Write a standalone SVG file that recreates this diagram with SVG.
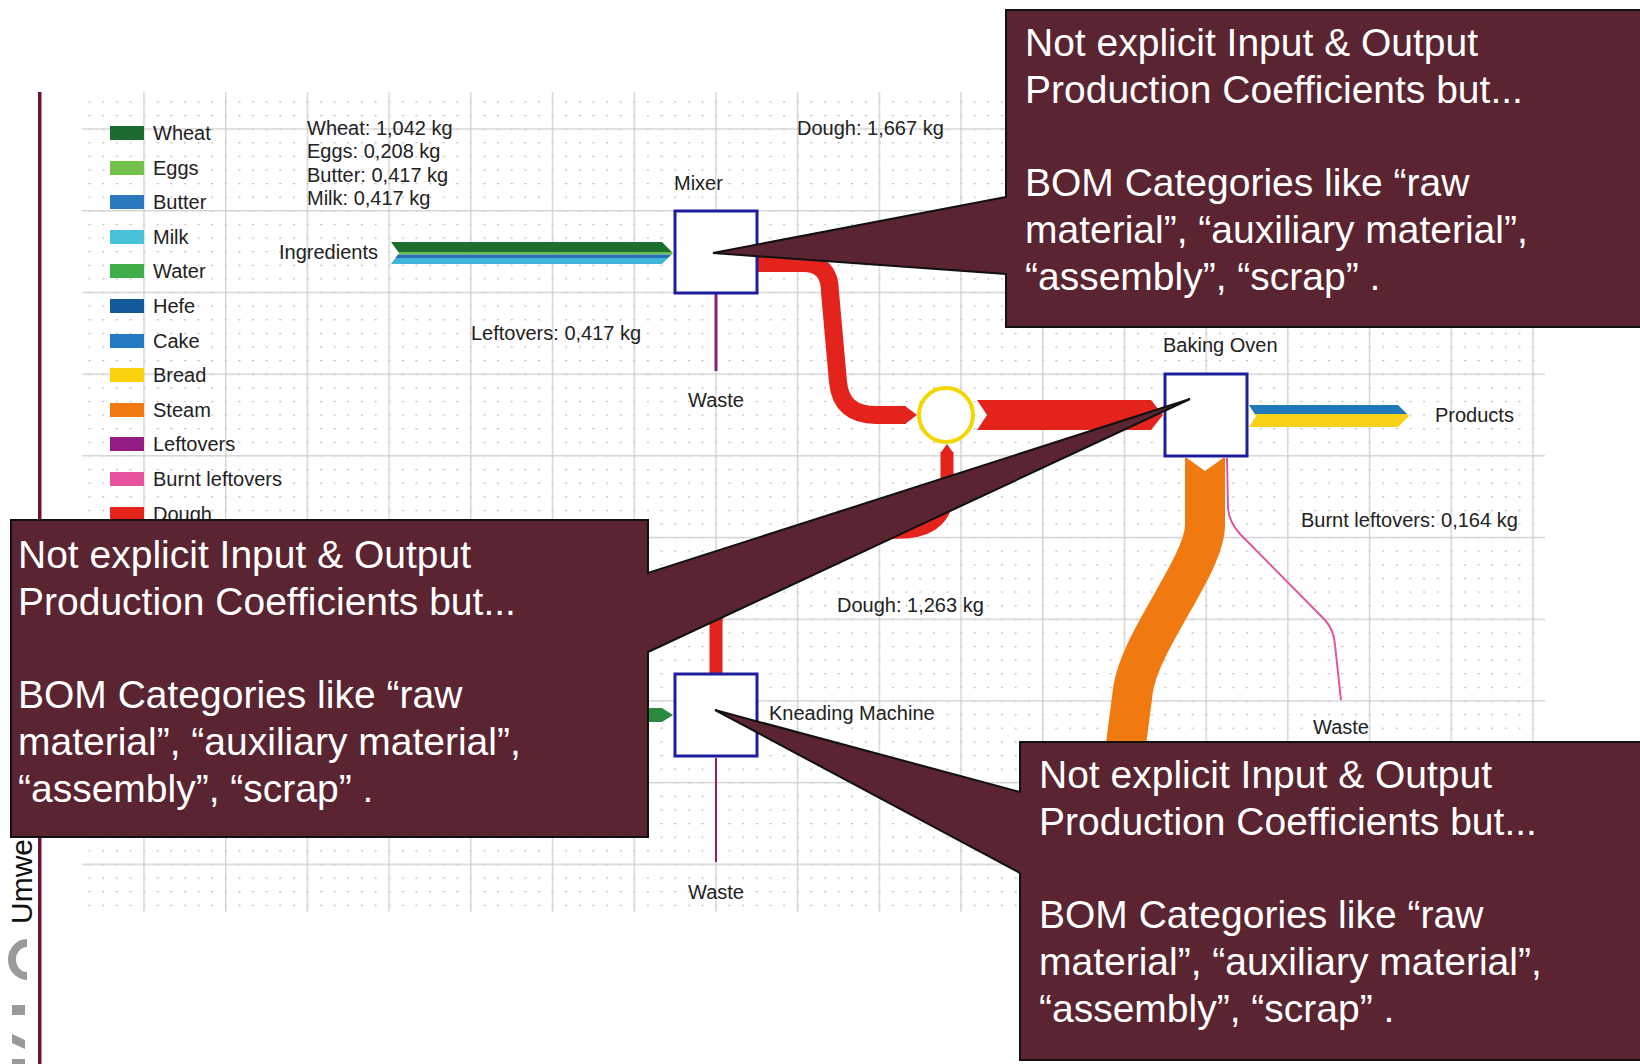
<svg xmlns="http://www.w3.org/2000/svg" width="1640" height="1064" viewBox="0 0 1640 1064">
<style>
.lbl{font-family:"Liberation Sans",Arial,sans-serif;font-size:20px;fill:#222}
.ctr{text-anchor:middle}
.box{fill:#fff;stroke:#1c1e9e;stroke-width:3}
.call{fill:#5b2431;stroke:#111;stroke-width:2;stroke-linejoin:miter}
.ctext{font-family:"Liberation Sans",Arial,sans-serif;font-size:39px;fill:#fff}
.flow{fill:none;stroke-linejoin:round}
</style>
<defs>
<pattern id="dots" x="143" y="128.5" width="13.617" height="13.617" patternUnits="userSpaceOnUse">
<rect x="0" y="0" width="2.2" height="1.3" fill="#c2c2c2"/>
</pattern>
<pattern id="major" x="143.3" y="128.3" width="81.7" height="81.7" patternUnits="userSpaceOnUse">
<rect x="0" y="0" width="1.4" height="81.7" fill="#d3d3d3"/>
<rect x="0" y="0" width="81.7" height="1.4" fill="#d3d3d3"/>
</pattern>
<clipPath id="ingClip"><polygon points="391,242 662,242 673,253 662,264 391,264 399,253"/></clipPath>
<clipPath id="prodClip"><polygon points="1249,405 1398,405 1409,416 1398,427 1249,427 1256,416"/></clipPath>
</defs>
<rect width="1640" height="1064" fill="#fff"/>
<g id="grid">
<rect x="82" y="92" width="1463" height="820" fill="url(#dots)"/>
<rect x="82" y="92" width="1463" height="820" fill="url(#major)"/>
</g>
<g id="side">
<rect x="38" y="92" width="3.5" height="972" fill="#6d1230"/>
<text transform="translate(32,924) rotate(-90)" font-family="Liberation Sans,Arial,sans-serif" font-size="30" fill="#111">Umwe</text>
<path d="M27,943 A15,16.5 0 0 0 27,976" fill="none" stroke="#9a9a9a" stroke-width="8"/>
<rect x="12" y="1005" width="13" height="10" fill="#9a9a9a"/>
<polygon points="12,1034 25,1040 25,1049 12,1043" fill="#9a9a9a"/>
<rect x="12" y="1059" width="13" height="6" fill="#9a9a9a"/>
</g>
<g id="legend">
<rect x="110" y="126" width="34" height="14" fill="#1e6b30"/><text class="lbl" x="153" y="140">Wheat</text>
<rect x="110" y="161" width="34" height="14" fill="#74c04c"/><text class="lbl" x="153" y="175">Eggs</text>
<rect x="110" y="195" width="34" height="14" fill="#2a78c0"/><text class="lbl" x="153" y="209">Butter</text>
<rect x="110" y="230" width="34" height="14" fill="#48c0d8"/><text class="lbl" x="153" y="244">Milk</text>
<rect x="110" y="264" width="34" height="14" fill="#3fae4a"/><text class="lbl" x="153" y="278">Water</text>
<rect x="110" y="299" width="34" height="14" fill="#135a9c"/><text class="lbl" x="153" y="313">Hefe</text>
<rect x="110" y="334" width="34" height="14" fill="#2379c4"/><text class="lbl" x="153" y="348">Cake</text>
<rect x="110" y="368" width="34" height="14" fill="#fbd20f"/><text class="lbl" x="153" y="382">Bread</text>
<rect x="110" y="403" width="34" height="14" fill="#f07a10"/><text class="lbl" x="153" y="417">Steam</text>
<rect x="110" y="437" width="34" height="14" fill="#951c82"/><text class="lbl" x="153" y="451">Leftovers</text>
<rect x="110" y="472" width="34" height="14" fill="#e8529c"/><text class="lbl" x="153" y="486">Burnt leftovers</text>
<rect x="110" y="507" width="34" height="14" fill="#e4231c"/><text class="lbl" x="153" y="521">Dough</text>
</g>
<g id="connectors">
<g id="flow-ingredients" clip-path="url(#ingClip)">
<rect x="380" y="241" width="300" height="11" fill="#1d6e2f"/>
<rect x="380" y="252" width="300" height="2.5" fill="#6cbf4b"/>
<rect x="380" y="254.5" width="300" height="3.5" fill="#2a70b6"/>
<rect x="380" y="258" width="300" height="7" fill="#40b5d8"/>
</g>
<text class="lbl" x="307" y="135">Wheat: 1,042 kg</text>
<text class="lbl" x="307" y="158">Eggs: 0,208 kg</text>
<text class="lbl" x="307" y="182">Butter: 0,417 kg</text>
<text class="lbl" x="307" y="205">Milk: 0,417 kg</text>
<path class="flow" d="M757,263 L803,263 Q830,263 830,292 L838,382 Q841,415 876,415 L906,415" stroke="#e4231c" stroke-width="18"/>
<polygon points="905,406 917,415 905,424" fill="#e4231c"/>
<text class="lbl" x="797" y="135">Dough: 1,667 kg</text>
<polygon points="977,400 1151,400 1163,415 1151,430 977,430 987,415" fill="#e4231c"/>
<path class="flow" d="M716,673 L716,622 Q716,607 731,603 L890,532 Q945,535 947,495 L947,452" stroke="#e4231c" stroke-width="13"/>
<polygon points="940.5,453 947,444 953.5,453" fill="#e4231c"/>
<text class="lbl" x="837" y="612">Dough: 1,263 kg</text>
<line x1="716" y1="294" x2="716" y2="371" stroke="#7f1f80" stroke-width="3"/>
<text class="lbl" x="471" y="340">Leftovers: 0,417 kg</text>
<line x1="716" y1="758" x2="716" y2="862" stroke="#8e1f6a" stroke-width="2"/>
<polygon points="640,708 662,708 673,715 662,722 640,722" fill="#2a8a3f"/>
<g id="flow-products" clip-path="url(#prodClip)">
<rect x="1245" y="403" width="170" height="26" fill="#f7d117"/>
<rect x="1245" y="403" width="170" height="11" fill="#1f78b8"/>
</g>
<path class="flow" d="M1205,458 L1205,525 C1205,565 1140,640 1133,690 L1124,760" stroke="#f07a10" stroke-width="40"/>
<polygon points="1184,456 1226,456 1205,471" fill="#fff"/>
<path class="flow" d="M1227,458 L1228,508 Q1229,522 1240,534 L1325,620 Q1334,630 1335,645 L1341,700" stroke="#e0559d" stroke-width="2"/>
<text class="lbl" x="1301" y="527">Burnt leftovers: 0,164 kg</text>
</g>
<g id="node-ingredients"><text class="lbl" x="279" y="259">Ingredients</text></g>
<g id="node-mixer"><rect class="box" x="675" y="211" width="82" height="82"/><text class="lbl" x="674" y="190">Mixer</text></g>
<g id="node-waste-mixer"><text class="lbl ctr" x="716" y="407">Waste</text></g>
<g id="node-junction"><circle cx="946" cy="415" r="27" fill="#fff" stroke="#f2d800" stroke-width="4"/></g>
<g id="node-baking-oven"><rect class="box" x="1165" y="374" width="82" height="82"/><text class="lbl" x="1163" y="352">Baking Oven</text></g>
<g id="node-products"><text class="lbl" x="1435" y="422">Products</text></g>
<g id="node-waste-oven"><text class="lbl ctr" x="1341" y="734">Waste</text></g>
<g id="node-kneading"><rect class="box" x="675" y="674" width="82" height="82"/><text class="lbl" x="769" y="720">Kneading Machine</text></g>
<g id="node-waste-kneading"><text class="lbl ctr" x="716" y="899">Waste</text></g>
<g id="callout-top">
<path class="call" d="M1006,10 H1650 V327 H1006 V274 L713,253 L1006,197 Z"/>
<text class="ctext" x="1025" y="56">Not explicit Input &amp; Output</text>
<text class="ctext" x="1025" y="103">Production Coefficients but...</text>
<text class="ctext" x="1025" y="196">BOM Categories like “raw</text>
<text class="ctext" x="1025" y="243">material”, “auxiliary material”,</text>
<text class="ctext" x="1025" y="290">“assembly”, “scrap” .</text>
</g>
<g id="callout-left">
<path class="call" d="M11,520 H648 V573 L1190,399 L648,652 V837 H11 Z"/>
<text class="ctext" x="18" y="568">Not explicit Input &amp; Output</text>
<text class="ctext" x="18" y="615">Production Coefficients but...</text>
<text class="ctext" x="18" y="708">BOM Categories like “raw</text>
<text class="ctext" x="18" y="755">material”, “auxiliary material”,</text>
<text class="ctext" x="18" y="802">“assembly”, “scrap” .</text>
</g>
<g id="callout-bottom">
<path class="call" d="M1020,742 H1650 V1060 H1020 V873 L715,710 L1020,792 Z"/>
<text class="ctext" x="1039" y="788">Not explicit Input &amp; Output</text>
<text class="ctext" x="1039" y="835">Production Coefficients but...</text>
<text class="ctext" x="1039" y="928">BOM Categories like “raw</text>
<text class="ctext" x="1039" y="975">material”, “auxiliary material”,</text>
<text class="ctext" x="1039" y="1022">“assembly”, “scrap” .</text>
</g>
</svg>
